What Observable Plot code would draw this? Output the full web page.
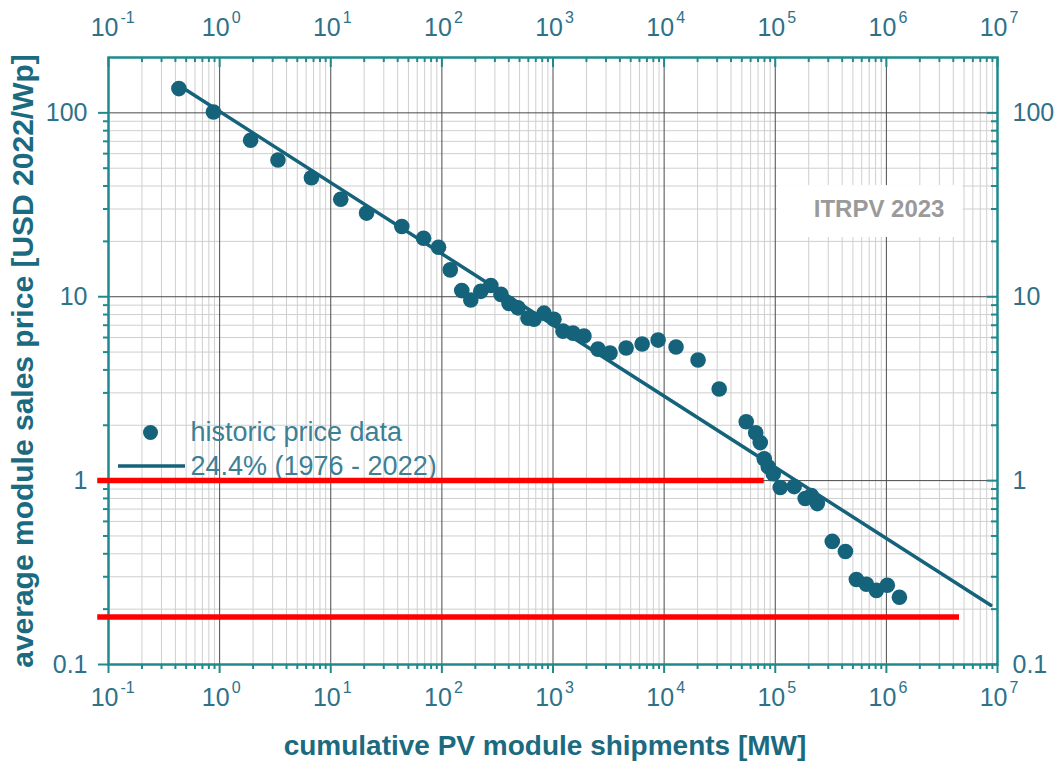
<!DOCTYPE html>
<html><head><meta charset="utf-8">
<script src="https://cdn.jsdelivr.net/npm/d3@7"></script>
<script src="https://cdn.jsdelivr.net/npm/@observablehq/plot@0.6"></script>
<style>
body{margin:0;background:#fff;}
#chart svg{display:block;}
</style></head><body><div id="chart"></div>
<script>
// ---- data ----
const shipmentsMW = [0.43, 0.88, 1.9, 3.35, 6.7, 12.3, 21, 43.6, 68.4, 93.3, 119, 151, 182, 224, 276, 340, 402, 484, 596, 675, 830, 1020, 1230, 1514, 1900, 2540, 3260, 4550, 6340, 8830, 12800, 20200, 31300, 54800, 66700, 73300, 79600, 86500, 96000, 111000, 148000, 186000, 211000, 239000, 326000, 428000, 537000, 661000, 813000, 1020000, 1310000];
const priceUSD = [135.5, 101, 71, 55.4, 44.4, 33.9, 28.5, 24.1, 20.8, 18.6, 14.0, 10.8, 9.6, 10.7, 11.5, 10.3, 9.2, 8.7, 7.65, 7.55, 8.14, 7.55, 6.5, 6.34, 6.11, 5.19, 4.94, 5.26, 5.53, 5.81, 5.33, 4.53, 3.15, 2.09, 1.82, 1.61, 1.316, 1.19, 1.09, 0.917, 0.928, 0.80, 0.83, 0.75, 0.467, 0.412, 0.29, 0.273, 0.253, 0.27, 0.232];
const trendX = [0.5, 8.7e6];
const trendY = [133, 0.21];
const redY = [1, 0.181];
const redX1 = [0.08, 0.08];
const redX2 = [7.96e4, 4.55e6];
const xExponents = [-1, 0, 1, 2, 3, 4, 5, 6, 7];
const yTickValues = [0.1, 1, 10, 100];
const yTickLabels = ["0.1", "1", "10", "100"];
const legendLabels = ["historic price data", "24.4% (1976 - 2022)"];
const watermark = "ITRPV 2023";
const watermarkBox = {x1: 1.05e5, x2: 4.9e6, y1: 21.0, y2: 40.2, xc: 8.6e5, yc: 29.8};

// ---- derived tables ----
const points = shipmentsMW.map((x, i) => ({x, y: priceUSD[i]}));
const trend = trendX.map((x, i) => ({x, y: trendY[i]}));
const reds = redY.map((y, i) => ({y, x1: redX1[i], x2: redX2[i]}));
const xMajor = xExponents.map(e => 10 ** e);
const xMinor = xExponents.slice(0, -1).flatMap(e => d3.range(2, 10).map(k => k * 10 ** e));
const yMinor = [-1, 0, 1, 2].flatMap(e => d3.range(2, 10).map(k => k * 10 ** e)).filter(v => v < 200);
const yFmt = d => yTickLabels[yTickValues.indexOf(d)];

const W = 1062, H = 764, mL = 108, mR = 65, mT = 57, mB = 100;
const fh = H - mT - mB, fw = W - mL - mR;
const cx = mL + fw / 2;
const teal = "#1f8a8c", dotC = "#14637b", lab = "#2e7189", ttl = "#1c6a80";
const font = "'Liberation Sans', Arial, sans-serif";

const plot = Plot.plot({
  width: W, height: H,
  marginLeft: mL, marginRight: mR, marginTop: mT, marginBottom: mB,
  x: {type: "log", domain: [0.1, 1e7], axis: null},
  y: {type: "log", domain: [0.1, 200], axis: null},
  style: {fontFamily: font, background: "white", overflow: "visible"},
  marks: [
    // grid
    Plot.ruleX(xMinor, {x: d => d, stroke: "#cfcfcf", strokeWidth: 1}),
    Plot.ruleY(yMinor, {y: d => d, stroke: "#cfcfcf", strokeWidth: 1}),
    Plot.ruleX(xMajor, {x: d => d, stroke: "#4a4a4a", strokeWidth: 1}),
    Plot.ruleY(yTickValues, {y: d => d, stroke: "#4a4a4a", strokeWidth: 1}),
    // watermark box
    Plot.rect([watermarkBox], {x1: "x1", x2: "x2", y1: "y1", y2: "y2", fill: "white"}),
    Plot.text([watermarkBox], {x: "xc", y: "yc", text: () => watermark, fill: "#9a9a9a", fontSize: 24, fontWeight: "bold"}),
    // ticks: bottom (outward), top (inward), left (outward), right (inward)
    Plot.tickX(xMinor, {x: d => d, insetTop: fh, insetBottom: -5, stroke: teal, strokeWidth: 2}),
    Plot.tickX(xMajor, {x: d => d, insetTop: fh, insetBottom: -9, stroke: teal, strokeWidth: 2}),
    Plot.tickX(xMinor, {x: d => d, insetBottom: fh - 5, stroke: teal, strokeWidth: 2}),
    Plot.tickX(xMajor, {x: d => d, insetBottom: fh - 10, stroke: teal, strokeWidth: 2}),
    Plot.tickY(yMinor, {y: d => d, insetRight: fw, insetLeft: -5, stroke: teal, strokeWidth: 2}),
    Plot.tickY(yTickValues, {y: d => d, insetRight: fw, insetLeft: -10, stroke: teal, strokeWidth: 2}),
    Plot.tickY(yMinor, {y: d => d, insetLeft: fw - 6, stroke: teal, strokeWidth: 2}),
    Plot.tickY(yTickValues, {y: d => d, insetLeft: fw - 10, stroke: teal, strokeWidth: 2}),
    Plot.frame({stroke: teal, strokeWidth: 2.5}),
    // x tick labels (bottom & top)
    Plot.text(xExponents, {x: e => 10 ** e, text: () => "10", frameAnchor: "bottom", lineAnchor: "middle", dy: 33, dx: 10, textAnchor: "end", fontSize: 25, fill: lab}),
    Plot.text(xExponents, {x: e => 10 ** e, text: e => String(e), frameAnchor: "bottom", lineAnchor: "middle", dy: 23, dx: 12, textAnchor: "start", fontSize: 16, fill: lab}),
    Plot.text(xExponents, {x: e => 10 ** e, text: () => "10", frameAnchor: "top", lineAnchor: "middle", dy: -30, dx: 10, textAnchor: "end", fontSize: 25, fill: lab}),
    Plot.text(xExponents, {x: e => 10 ** e, text: e => String(e), frameAnchor: "top", lineAnchor: "middle", dy: -40, dx: 12, textAnchor: "start", fontSize: 16, fill: lab}),
    // y tick labels (left & right)
    Plot.axisY(yTickValues, {anchor: "left", tickSize: 0, tickPadding: 21, tickFormat: yFmt, fontSize: 25, color: lab, label: null}),
    Plot.axisY(yTickValues, {anchor: "right", tickSize: 0, tickPadding: 15, tickFormat: yFmt, fontSize: 25, color: lab, label: null}),
    // axis titles
    Plot.text(["cumulative PV module shipments [MW]"], {frameAnchor: "bottom", lineAnchor: "middle", dy: 82, dx: -8, textAnchor: "middle", fontSize: 28, fontWeight: "bold", fill: ttl}),
    Plot.text(["average module sales price [USD 2022/Wp]"], {frameAnchor: "left", dx: -85, rotate: -90, textAnchor: "middle", fontSize: 30, fontWeight: "bold", fill: ttl}),
    // data
    Plot.line(trend, {x: "x", y: "y", stroke: dotC, strokeWidth: 3.5}),
    Plot.dot(points, {x: "x", y: "y", r: 7.8, fill: dotC}),
    // legend
    Plot.dot([0], {frameAnchor: "top-left", dx: 42, dy: 375, r: 7.5, fill: dotC}),
    Plot.text([legendLabels[0]], {frameAnchor: "top", lineAnchor: "middle", dx: 190 - cx, dy: 375, textAnchor: "start", fontSize: 27, fill: "#3d7f95"}),
    Plot.text([legendLabels[1]], {frameAnchor: "top", lineAnchor: "middle", dx: 190 - cx, dy: 409, textAnchor: "start", fontSize: 27, fill: "#3d7f95"}),
    // red annotation lines
    Plot.ruleY(reds, {y: "y", x1: "x1", x2: "x2", stroke: "#ff0000", strokeWidth: 5.5})
  ]
});
document.getElementById("chart").appendChild(plot);

// legend line sample
d3.select(plot).append("line").attr("x1", 118).attr("x2", 185).attr("y1", mT + 409).attr("y2", mT + 409)
  .attr("stroke", dotC).attr("stroke-width", 3.5);
</script></body></html>
